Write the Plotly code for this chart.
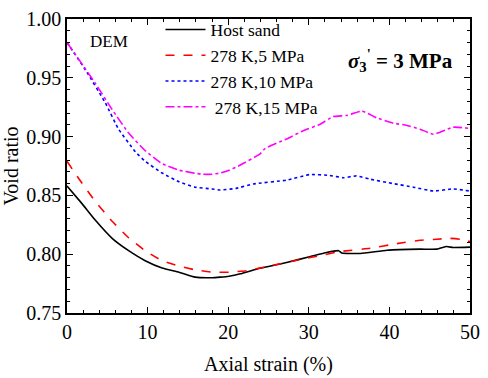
import plotly.graph_objects as go

# Host sand
host_x = [0, 1.86, 3.5, 5.6, 7.65, 9.7, 11.8, 13.9, 15.9, 18.0, 19.0, 20.1, 21.5, 23.9, 27.25, 30.1, 32.2, 33.7, 34.1, 36.4, 39.7, 43.8, 45.9, 47.1, 47.9, 50]
host_y = [0.858, 0.843, 0.829, 0.8135, 0.803, 0.7945, 0.7883, 0.7847, 0.7805, 0.780, 0.7805, 0.7813, 0.7833, 0.788, 0.793, 0.7978, 0.8015, 0.803, 0.801, 0.8006, 0.8034, 0.8043, 0.8043, 0.8065, 0.8057, 0.806]

# 278 K, 5 MPa
r5_x = [0, 1.45, 3.5, 5.6, 7.65, 9.7, 11.8, 13.9, 15.9, 18.0, 20.1, 22.3, 25.2, 29.3, 31.4, 33.9, 37.6, 40.9, 43.8, 45.9, 47.5, 48.8, 50]
r5_y = [0.879, 0.8644, 0.845, 0.828, 0.814, 0.803, 0.7945, 0.790, 0.7867, 0.7847, 0.7847, 0.786, 0.790, 0.796, 0.7987, 0.8023, 0.805, 0.809, 0.8118, 0.8127, 0.8135, 0.8127, 0.8107]

# 278 K, 10 MPa
r10_x = [0, 2.3, 4.75, 6.4, 8.5, 9.7, 11.8, 13.9, 15.9, 18.0, 19.0, 21.0, 23.1, 27.25, 30.1, 32.6, 34.3, 35.9, 37.6, 40.5, 43.0, 45.45, 47.9, 50]
r10_y = [0.980, 0.9566, 0.9287, 0.9063, 0.887, 0.879, 0.869, 0.8616, 0.857, 0.8555, 0.8546, 0.856, 0.8597, 0.863, 0.8677, 0.867, 0.865, 0.8666, 0.8638, 0.860, 0.857, 0.8537, 0.8555, 0.8537]

# 278 K, 15 MPa
r15_x = [0, 3.5, 5.6, 7.65, 9.7, 11.8, 13.9, 16.7, 18.0, 19.0, 20.1, 21.05, 23.95, 24.6, 27.25, 29.3, 31.4, 33.0, 34.7, 36.6, 38.4, 40.5, 42.1, 43.8, 45.45, 47.9, 50]
r15_y = [0.980, 0.9455, 0.923, 0.903, 0.888, 0.877, 0.8714, 0.868, 0.868, 0.869, 0.8714, 0.8742, 0.8853, 0.890, 0.898, 0.905, 0.9105, 0.917, 0.918, 0.9217, 0.916, 0.9114, 0.9097, 0.9063, 0.902, 0.908, 0.907]

names = ["Host sand", "278 K,5 MPa", "278 K,10 MPa", " 278 K,15 MPa"]
colors = ["black", "red", "blue", "magenta"]
dashes = ["solid", "dash", "dot", "dashdot"]

FONT = "Liberation Serif, Times New Roman, serif"

fig = go.Figure()
for xs, ys, n, c, d in zip([host_x, r5_x, r10_x, r15_x], [host_y, r5_y, r10_y, r15_y], names, colors, dashes):
    fig.add_trace(go.Scatter(x=xs, y=ys, mode="lines", name=n,
                             line=dict(color=c, dash=d, width=1.6, shape="spline", smoothing=0.4)))

axis_common = dict(showline=True, linecolor="black", linewidth=1.5, mirror="ticks",
                   ticks="inside", ticklen=6, tickwidth=1, tickcolor="black",
                   showgrid=False, zeroline=False, automargin=False,
                   tickfont=dict(family=FONT, size=20, color="black"))

fig.update_xaxes(range=[0, 50], dtick=10,
                 minor=dict(dtick=2, ticks="inside", ticklen=3, tickcolor="black"),
                 title=dict(text="Axial strain (%)", font=dict(family=FONT, size=20, color="black"), standoff=15),
                 **axis_common)
fig.update_yaxes(range=[0.75, 1.00], dtick=0.05, tickformat=".2f",
                 minor=dict(dtick=0.01, ticks="inside", ticklen=3, tickcolor="black"),
                 title=dict(text="Void ratio", font=dict(family=FONT, size=20, color="black"), standoff=16),
                 **axis_common)

fig.add_annotation(x=0.052, y=0.923, xref="paper", yref="paper", text="DEM", showarrow=False,
                   xanchor="left", yanchor="middle", font=dict(family=FONT, size=17, color="black"))
fig.add_annotation(x=0.963, y=0.859, xref="paper", yref="paper",
                   text="<b><i>σ</i><sub>3</sub><sup>'</sup> = 3 MPa</b>", showarrow=False,
                   xanchor="right", yanchor="middle", font=dict(family=FONT, size=21, color="black"))

fig.update_layout(
    width=488, height=378,
    margin=dict(l=67, r=18, t=15, b=65),
    paper_bgcolor="white", plot_bgcolor="white",
    font=dict(family=FONT, color="black"),
    legend=dict(x=0.232, y=1.025, xanchor="left", yanchor="top", bgcolor="rgba(0,0,0,0)",
                font=dict(family=FONT, size=17.5, color="black"), tracegroupgap=0,
                itemwidth=40),
    showlegend=True,
)

fig.write_html("out.html", config={"displayModeBar": False},
               post_script="document.body.style.margin='0';")
